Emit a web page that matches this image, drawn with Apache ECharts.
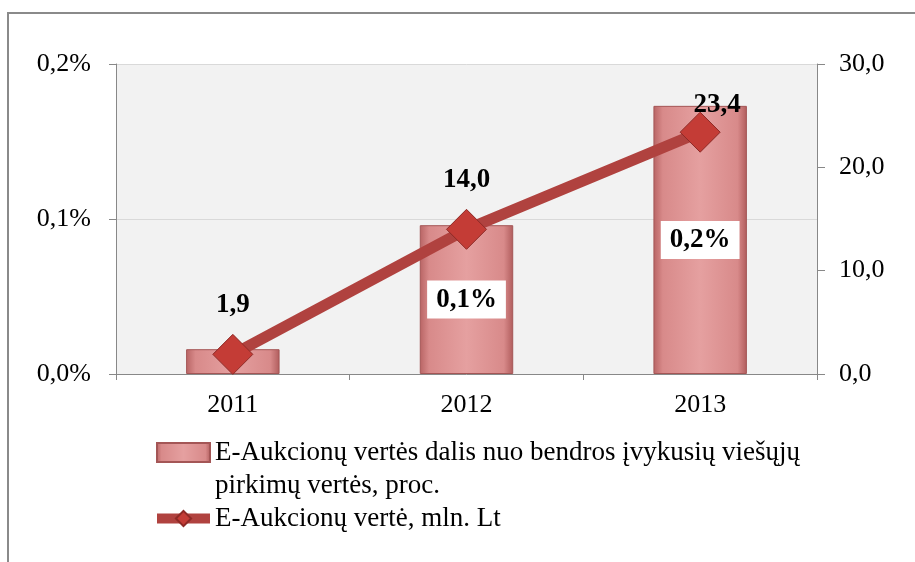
<!DOCTYPE html>
<html>
<head>
<meta charset="utf-8">
<script src="https://cdn.jsdelivr.net/npm/echarts@6/dist/echarts.min.js"></script>
<style>
  html, body { margin: 0; padding: 0; background: #fff; }
  #main { width: 915px; height: 562px; }
</style>
</head>
<body>
<div id="main"></div>
<script>
// duomenys
const years = ['2011', '2012', '2013'];
const sharePct = [0.016, 0.096, 0.173];   // E-aukcionų dalis, proc.
const valueMln = [1.9, 14.0, 23.4];        // E-aukcionų vertė, mln. Lt
const barName = 'E-Aukcionų vertės dalis nuo bendros įvykusių viešųjų\npirkimų vertės, proc.';
const lineName = 'E-Aukcionų vertė, mln. Lt';

const FONT = 'Liberation Serif';
const comma = (v, d) => v.toFixed(d).replace('.', ',');

const myChart = echarts.init(document.getElementById('main'));

const barGradient = new echarts.graphic.LinearGradient(0, 0, 1, 0, [
  { offset: 0, color: '#b86464' },
  { offset: 0.1, color: '#d88a8a' },
  { offset: 0.5, color: '#e5a0a0' },
  { offset: 0.9, color: '#d88a8a' },
  { offset: 1, color: '#b05c5c' },
]);

myChart.setOption({
  animation: false,
  textStyle: { fontFamily: FONT },
  graphic: [{
    type: 'rect',
    shape: { x: 8, y: 13, width: 930, height: 580 },
    style: { fill: 'none', stroke: '#8a8a8a', lineWidth: 2 },
    silent: true,
  }],
  grid: { left: 116, right: 98, top: 64, bottom: 188, show: true, backgroundColor: '#f2f2f2', borderWidth: 0 },
  legend: {
    orient: 'vertical',
    left: 147,
    top: 398,
    itemWidth: 53,
    itemHeight: 19,
    itemGap: 0,
    textStyle: { fontFamily: FONT, fontSize: 27, color: '#000', lineHeight: 33 },
    formatter: (name) => (name === barName ? '\n' + name : name),
    data: [
      { name: barName, icon: 'rect' },
      { name: lineName, lineStyle: { width: 10, color: '#b0423f' } },
    ],
  },
  xAxis: {
    type: 'category',
    data: years,
    axisLine: { lineStyle: { color: '#888', width: 1 } },
    axisTick: { show: true, length: 6, lineStyle: { color: '#888' } },
    axisLabel: { color: '#000', fontSize: 26, fontFamily: FONT, margin: 18 },
  },
  yAxis: [{
    type: 'value',
    min: 0,
    max: 0.2,
    interval: 0.1,
    axisLine: { show: true, lineStyle: { color: '#888' } },
    axisTick: { show: true, length: 7, lineStyle: { color: '#888' } },
    splitLine: { lineStyle: { color: '#d9d9d9', width: 1 } },
    axisLabel: { color: '#000', fontSize: 26, fontFamily: FONT, margin: 25, formatter: (v) => comma(v, 1) + '%' },
  }, {
    type: 'value',
    min: 0,
    max: 30,
    interval: 10,
    position: 'right',
    axisLine: { show: true, lineStyle: { color: '#888' } },
    axisTick: { show: true, length: 8, lineStyle: { color: '#888' } },
    splitLine: { show: false },
    axisLabel: { color: '#000', fontSize: 26, fontFamily: FONT, margin: 22, formatter: (v) => comma(v, 1) },
  }],
  series: [{
    name: barName,
    type: 'bar',
    yAxisIndex: 0,
    barWidth: '40%',
    data: sharePct.map((v, i) => ({ value: v, label: { show: i > 0 } })),
    itemStyle: { color: barGradient, borderColor: '#a45656', borderWidth: 1 },
    label: {
      show: true,
      position: 'inside',
      formatter: (p) => comma(p.value, 1) + '%',
      color: '#000',
      fontSize: 27,
      fontWeight: 'bold',
      fontFamily: FONT,
      backgroundColor: '#fff',
      padding: [6, 9, 5, 9],
    },
  }, {
    name: lineName,
    type: 'line',
    yAxisIndex: 1,
    data: valueMln.map((v, i) => (i === 2 ? { value: v, label: { distance: -7, offset: [17, 0] } } : v)),
    symbol: 'diamond',
    symbolSize: 40,
    lineStyle: { color: '#b0423f', width: 11 },
    itemStyle: { color: '#c43c36', borderColor: '#8e2a26', borderWidth: 1 },
    label: {
      show: true,
      position: 'top',
      distance: 15,
      formatter: (p) => comma(p.value, 1),
      color: '#000',
      fontSize: 27,
      fontWeight: 'bold',
      fontFamily: FONT,
    },
    z: 5,
  }],
});
</script>
</body>
</html>
